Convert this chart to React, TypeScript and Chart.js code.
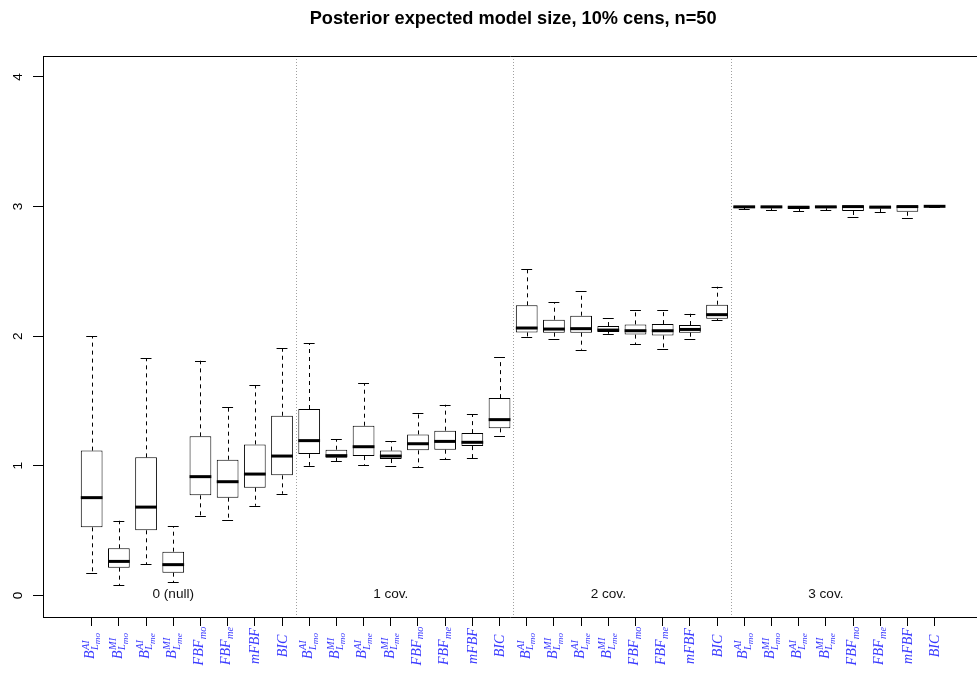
import React, { useEffect, useRef } from 'react';
import { Chart, registerables } from 'chart.js';

Chart.register(...registerables);

// Groups of fitted models and the methods compared inside each group
const groupNames = ['0 (null)', '1 cov.', '2 cov.', '3 cov.'];
const methodBase = ['B', 'B', 'B', 'B', 'FBF', 'FBF', 'mFBF', 'BIC'];
const methodSup = ['AI', 'MI', 'AI', 'MI', '', '', '', ''];
const methodSub = ['L', 'L', 'L', 'L', 'mo', 'me', '', ''];
const methodSubSub = ['mo', 'mo', 'me', 'me', '', '', '', ''];

// Box statistics, one entry per box (8 methods x 4 groups)
const lowerWhisker = [
  0.172, 0.077, 0.239, 0.103, 0.615, 0.581, 0.692, 0.785,
  1.001, 1.034, 1.008, 0.995, 0.988, 1.049, 1.057, 1.227,
  1.996, 1.978, 1.896, 2.019, 1.939, 1.903, 1.975, 2.122,
  2.98, 2.971, 2.963, 2.973, 2.92, 2.955, 2.909, 3.0,
];
const lowerQuartile = [
  0.525, 0.214, 0.502, 0.175, 0.772, 0.754, 0.831, 0.926,
  1.09, 1.062, 1.075, 1.052, 1.119, 1.124, 1.152, 1.289,
  2.029, 2.027, 2.027, 2.032, 2.012, 2.006, 2.027, 2.135,
  2.99, 2.988, 2.982, 2.988, 2.966, 2.985, 2.96, 3.0,
];
const medianValue = [
  0.754, 0.262, 0.681, 0.237, 0.916, 0.877, 0.936, 1.075,
  1.194, 1.078, 1.147, 1.075, 1.17, 1.188, 1.181, 1.356,
  2.063, 2.055, 2.058, 2.047, 2.042, 2.042, 2.052, 2.166,
  2.998, 2.998, 2.995, 2.998, 3.0, 2.996, 3.0, 3.002,
];
const upperQuartile = [
  1.117, 0.363, 1.065, 0.337, 1.227, 1.047, 1.165, 1.386,
  1.438, 1.124, 1.309, 1.117, 1.242, 1.271, 1.252, 1.522,
  2.238, 2.127, 2.158, 2.078, 2.091, 2.093, 2.086, 2.243,
  3.003, 3.003, 3.003, 3.003, 3.006, 3.003, 3.004, 3.002,
];
const upperWhisker = [
  2.0, 0.576, 1.829, 0.532, 1.811, 1.45, 1.62, 1.908,
  1.947, 1.206, 1.638, 1.188, 1.41, 1.471, 1.397, 1.836,
  2.518, 2.263, 2.348, 2.14, 2.199, 2.201, 2.173, 2.382,
  3.003, 3.003, 3.003, 3.003, 3.006, 3.003, 3.004, 3.002,
];

const yTicks = [0, 1, 2, 3, 4];
const titleText = 'Posterior expected model size, 10% cens, n=50';

const perGroup = methodBase.length;
const positions = lowerWhisker.map((_, i) => i + 1);
const separators = groupNames.slice(1).map((_, g) => (g + 1) * perGroup + 0.5);
const groupLabelAt = groupNames.map((_, g) => g * perGroup + perGroup / 2);

const SANS = '"Liberation Sans", Arial, Helvetica, sans-serif';
const SERIF = '"Liberation Serif", "Times New Roman", serif';
const LABEL_BLUE = '#3a3aff';
const AXIS_FONT = 13.6;

type MathLabel = { base: string; sup: string; sub: string; subsub: string };

const xLabels: MathLabel[] = positions.map((_, i) => {
  const m = i % perGroup;
  return { base: methodBase[m], sup: methodSup[m], sub: methodSub[m], subsub: methodSubSub[m] };
});

// Draws an italic label with optional super/subscripts, rotated to read upwards,
// centred on (cx, cy).
function drawMathLabel(ctx: CanvasRenderingContext2D, lab: MathLabel, cx: number, cy: number, size: number) {
  const fs = size;
  const ss = size * 0.74;
  const sss = size * 0.66;
  const font = (s: number) => `italic ${s}px ${SERIF}`;
  ctx.font = font(fs);
  const baseW = ctx.measureText(lab.base).width;
  ctx.font = font(ss);
  const supW = lab.sup ? ctx.measureText(lab.sup).width : 0;
  const subW = lab.sub ? ctx.measureText(lab.sub).width : 0;
  ctx.font = font(sss);
  const subsubW = lab.subsub ? ctx.measureText(lab.subsub).width : 0;
  const total = baseW + Math.max(supW, subW + subsubW) + (lab.sup || lab.sub ? 0.5 : 0);

  const capH = fs * 0.66;
  const supRaise = fs * 0.4;
  const subDrop = lab.sup ? fs * 0.26 : fs * 0.2;
  const subsubDrop = subDrop + ss * 0.22;
  // vertical extent in the rotated frame (negative = above baseline)
  const top = lab.sup ? -(supRaise + ss * 0.66) : -capH;
  const bottom = lab.subsub ? subsubDrop + sss * 0.1 : lab.sub ? subDrop + ss * 0.1 : 0;
  const mid = (top + bottom) / 2;

  ctx.save();
  ctx.translate(cx, cy);
  ctx.rotate(-Math.PI / 2);
  ctx.fillStyle = LABEL_BLUE;
  ctx.textBaseline = 'alphabetic';
  ctx.textAlign = 'left';
  const x0 = -total / 2;
  const b = -mid;
  ctx.font = font(fs);
  ctx.fillText(lab.base, x0, b);
  const sx = x0 + baseW + 0.5;
  if (lab.sup) {
    ctx.font = font(ss);
    ctx.fillText(lab.sup, sx, b - supRaise);
  }
  if (lab.sub) {
    ctx.font = font(ss);
    ctx.fillText(lab.sub, sx, b + subDrop);
  }
  if (lab.subsub) {
    ctx.font = font(sss);
    ctx.fillText(lab.subsub, sx + subW, b + subsubDrop);
  }
  ctx.restore();
}

const boxExtras = {
  id: 'boxExtras',
  beforeDatasetsDraw(chart: any) {
    const { ctx, chartArea, scales } = chart;
    const x = scales.x;
    const y = scales.y;
    ctx.save();
    // dotted group separators
    ctx.strokeStyle = '#a0a0a0';
    ctx.lineWidth = 1;
    ctx.setLineDash([1, 2]);
    separators.forEach((v) => {
      const px = Math.round(x.getPixelForValue(v)) + 0.5;
      ctx.beginPath();
      ctx.moveTo(px, chartArea.top);
      ctx.lineTo(px, chartArea.bottom);
      ctx.stroke();
    });
    // group names
    ctx.setLineDash([]);
    ctx.fillStyle = '#111';
    ctx.font = `${AXIS_FONT}px ${SANS}`;
    ctx.textAlign = 'center';
    ctx.textBaseline = 'middle';
    groupNames.forEach((name, g) => {
      ctx.fillText(name, x.getPixelForValue(groupLabelAt[g]), y.getPixelForValue(0) - 1.5);
    });
    // whiskers and staples
    ctx.strokeStyle = '#000';
    positions.forEach((p, i) => {
      const cx = Math.round(x.getPixelForValue(p)) + 0.5;
      const sl = x.getPixelForValue(p - 0.2);
      const sr = x.getPixelForValue(p + 0.2);
      const segs: [number, number][] = [
        [upperQuartile[i], upperWhisker[i]],
        [lowerQuartile[i], lowerWhisker[i]],
      ];
      segs.forEach(([from, to]) => {
        const y0 = y.getPixelForValue(from);
        const y1 = y.getPixelForValue(to);
        if (Math.abs(y1 - y0) > 0.5) {
          ctx.setLineDash([4, 4]);
          ctx.beginPath();
          ctx.moveTo(cx, y0);
          ctx.lineTo(cx, y1);
          ctx.stroke();
        }
        ctx.setLineDash([]);
        const yy = Math.round(y1) + 0.5;
        ctx.beginPath();
        ctx.moveTo(sl, yy);
        ctx.lineTo(sr, yy);
        ctx.stroke();
      });
    });
    ctx.restore();
  },
  afterDatasetsDraw(chart: any) {
    const { ctx, scales } = chart;
    const x = scales.x;
    const y = scales.y;
    ctx.save();
    ctx.strokeStyle = '#000';
    ctx.lineWidth = 3;
    positions.forEach((p, i) => {
      const yy = y.getPixelForValue(medianValue[i]);
      ctx.beginPath();
      ctx.moveTo(x.getPixelForValue(p - 0.4), yy);
      ctx.lineTo(x.getPixelForValue(p + 0.4), yy);
      ctx.stroke();
    });
    ctx.restore();
  },
  afterDraw(chart: any) {
    const { ctx, chartArea, scales } = chart;
    const x = scales.x;
    const y = scales.y;
    ctx.save();
    // top edge of the plot frame
    ctx.strokeStyle = '#000';
    ctx.lineWidth = 1;
    ctx.beginPath();
    ctx.moveTo(chartArea.left, chartArea.top + 0.5);
    ctx.lineTo(chartArea.right + 2, chartArea.top + 0.5);
    ctx.stroke();
    // title, centred on the middle box position
    ctx.fillStyle = '#000';
    ctx.font = `bold 18.2px ${SANS}`;
    ctx.textAlign = 'center';
    ctx.textBaseline = 'middle';
    ctx.fillText(titleText, x.getPixelForValue((positions[0] + positions[positions.length - 1]) / 2), 19);
    // y tick labels, reading upwards
    ctx.font = `${AXIS_FONT}px ${SANS}`;
    ctx.textBaseline = 'alphabetic';
    yTicks.forEach((v) => {
      ctx.save();
      ctx.translate(21.5, y.getPixelForValue(v));
      ctx.rotate(-Math.PI / 2);
      ctx.fillText(String(v), 0, 0);
      ctx.restore();
    });
    // method labels under each box
    xLabels.forEach((lab, i) => {
      drawMathLabel(ctx, lab, x.getPixelForValue(positions[i]), 646, 14);
    });
    ctx.restore();
  },
};

export default function App() {
  const canvasRef = useRef<HTMLCanvasElement | null>(null);

  useEffect(() => {
    document.body.style.margin = '0';
    const canvas = canvasRef.current;
    if (!canvas) return;
    const chart = new Chart(canvas, {
      type: 'bar',
      data: {
        datasets: [
          {
            data: positions.map((p, i) => ({ x: p, y: [lowerQuartile[i], upperQuartile[i]] })) as any,
            backgroundColor: '#ffffff',
            borderColor: '#000000',
            borderWidth: 1,
            borderSkipped: false,
            inflateAmount: 0,
            categoryPercentage: 0.8,
            barPercentage: 1.0,
          },
        ],
      },
      options: {
        responsive: false,
        animation: false,
        devicePixelRatio: 1,
        layout: { padding: { top: 56, right: 0, left: 0, bottom: 0 } },
        plugins: {
          legend: { display: false },
          tooltip: { enabled: false },
          title: { display: false },
        },
        scales: {
          x: {
            type: 'linear',
            offset: false,
            min: -0.79,
            max: 33.56,
            afterBuildTicks: (s: any) => {
              s.ticks = positions.map((v) => ({ value: v }));
            },
            afterFit: (s: any) => {
              s.height = 57;
            },
            grid: { display: true, offset: false, drawOnChartArea: false, drawTicks: true, tickLength: 9, color: '#000', lineWidth: 1 },
            border: { display: true, color: '#000', width: 1 },
            ticks: { display: false },
          },
          y: {
            type: 'linear',
            min: -0.167,
            max: 4.162,
            afterBuildTicks: (s: any) => {
              s.ticks = yTicks.map((v) => ({ value: v }));
            },
            afterFit: (s: any) => {
              s.width = 43;
            },
            grid: { display: true, drawOnChartArea: false, drawTicks: true, tickLength: 10, color: '#000', lineWidth: 1 },
            border: { display: true, color: '#000', width: 1 },
            ticks: { display: false },
          },
        },
      },
      plugins: [boxExtras],
    });
    return () => chart.destroy();
  }, []);

  return (
    <div style={{ width: 977, height: 674, background: '#fff' }}>
      <canvas ref={canvasRef} width={977} height={674} style={{ display: 'block' }} />
    </div>
  );
}
